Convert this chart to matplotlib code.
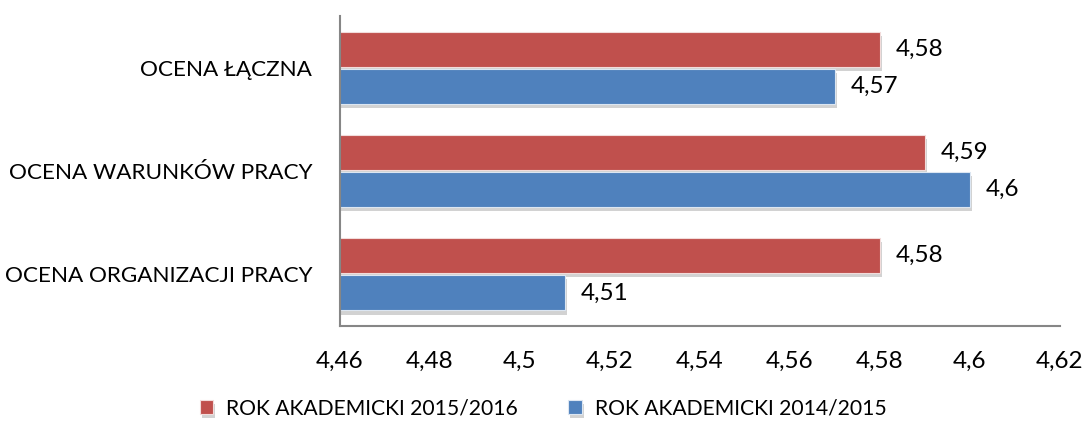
import matplotlib
matplotlib.use('Agg')
import matplotlib.pyplot as plt
import matplotlib.patheffects as pe
import numpy as np

# Dane wykresu.
categories = ['OCENA ŁĄCZNA', 'OCENA WARUNKÓW PRACY', 'OCENA ORGANIZACJI PRACY']
series_names = ['ROK AKADEMICKI 2015/2016', 'ROK AKADEMICKI 2014/2015']
values_2015_16 = [4.58, 4.59, 4.58]
values_2014_15 = [4.57, 4.60, 4.51]
x_ticks = [4.46, 4.48, 4.50, 4.52, 4.54, 4.56, 4.58, 4.60, 4.62]

plt.rcParams['font.family'] = ['Lato', 'DejaVu Sans']

fig = plt.figure(figsize=(10.86, 4.26), dpi=100)
ax = fig.add_axes([0.313, 0.235, 0.663, 0.727])

y = np.arange(len(categories))
h = 0.34
shadow = [pe.SimplePatchShadow(offset=(1.5, -3), shadow_rgbFace='#7f7f7f', alpha=0.35), pe.Normal()]

b1 = ax.barh(y - h / 2 - 0.01, values_2015_16, height=h, color='#C0504D',
             edgecolor='#f2dcdb', linewidth=0.8, label=series_names[0])
b2 = ax.barh(y + h / 2 + 0.01, values_2014_15, height=h, color='#4F81BD',
             edgecolor='#dce6f2', linewidth=0.8, label=series_names[1])

for bars in (b1, b2):
    for rect in bars:
        rect.set_path_effects(shadow)
        w = rect.get_width()
        ax.text(w + 0.0034, rect.get_y() + rect.get_height() / 2,
                ('%g' % w).replace('.', ','), ha='left', va='center', fontsize=17.5)

ax.set_xlim(4.46, 4.62)
ax.set_ylim(len(categories) - 0.5, -0.5)
ax.set_xticks(x_ticks)
ax.set_xticklabels([('%g' % t).replace('.', ',') for t in x_ticks], fontsize=17.5)
ax.set_yticks(y)
ax.set_yticklabels(categories, fontsize=16.2)
ax.tick_params(axis='both', length=0)
ax.tick_params(axis='x', pad=18)
ax.tick_params(axis='y', pad=20)

for s in ['top', 'right']:
    ax.spines[s].set_visible(False)
for s in ['left', 'bottom']:
    ax.spines[s].set_color('#868686')
    ax.spines[s].set_linewidth(1.5)

fig.legend(handles=[b1, b2], labels=series_names, loc='center', ncol=2,
           bbox_to_anchor=(0.5, 0.042), frameon=False, fontsize=15.2,
           handlelength=0.65, handleheight=0.65, handletextpad=0.6, columnspacing=2.4)

fig.savefig('out.png', dpi=100)
